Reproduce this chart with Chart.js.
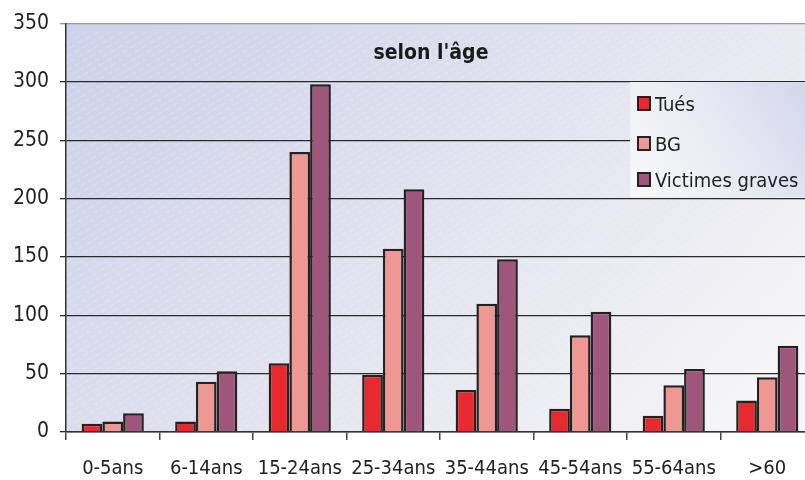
<!DOCTYPE html>
<html>
<head>
<meta charset="utf-8">
<script src="https://cdn.jsdelivr.net/npm/chart.js@4/dist/chart.umd.min.js"></script>
<style>
html,body{margin:0;padding:0;background:#fff;overflow:hidden;}
#wrap{width:820px;height:480px;}
</style>
</head>
<body>
<div id="wrap"><canvas id="chart" width="820" height="480"></canvas></div>
<script>
const categories = ["0-5ans","6-14ans","15-24ans","25-34ans","35-44ans","45-54ans","55-64ans",">60"];
const tues = [7,9,59,49,36,20,14,27];
const bg = [9,43,240,157,110,83,40,47];
const victimesGraves = [16,52,298,208,148,103,54,74];
const yTicks = [0,50,100,150,200,250,300,350];

const FONT = "'DejaVu Sans Condensed','Liberation Sans',sans-serif";

const backdrop = {
  id:"backdrop",
  beforeDraw(chart){
    const {ctx, chartArea:a} = chart;
    ctx.save();
    const g = ctx.createLinearGradient(a.left, a.top, a.left+a.width*0.75, a.bottom+120);
    g.addColorStop(0,"#cdd1ea");
    g.addColorStop(0.55,"#e3e4ef");
    g.addColorStop(1,"#f6f6f8");
    ctx.fillStyle = g;
    ctx.fillRect(a.left, a.top, a.right-a.left, a.bottom-a.top);
    // faint diagonal stripes
    ctx.beginPath();
    ctx.rect(a.left, a.top, a.right-a.left, a.bottom-a.top);
    ctx.clip();
    ctx.strokeStyle = "rgba(255,255,255,0.28)";
    ctx.lineWidth = 1;
    ctx.setLineDash([6,3]);
    for(let x=a.left-800; x<a.right+100; x+=12){
      ctx.beginPath();
      ctx.moveTo(x, a.bottom);
      ctx.lineTo(x+700, a.bottom-400);
      ctx.stroke();
    }
    ctx.restore();
  },
  afterDatasetsDraw(chart){
    const {ctx, chartArea:a} = chart;
    ctx.save();
    // title inside the plot
    ctx.fillStyle = "#1a1a1a";
    ctx.font = "bold 21px " + FONT;
    ctx.textAlign = "center";
    ctx.textBaseline = "middle";
    ctx.fillText("selon l'âge", 431, 54);
    // legend box
    const bx = 630, by = 82, bw = a.right-bx, bh = 115;
    const g = ctx.createLinearGradient(bx+bw, by, bx, by+bh);
    g.addColorStop(0,"#d2d5ec");
    g.addColorStop(0.6,"#eceef4");
    g.addColorStop(1,"#f8f8fa");
    ctx.fillStyle = g;
    ctx.fillRect(bx, by, bw, bh);
    ctx.font = "20px " + FONT;
    ctx.textAlign = "left";
    const rows = [104, 144, 180];
    chart.data.datasets.forEach((ds,i)=>{
      const y = rows[i];
      ctx.fillStyle = ds.backgroundColor;
      ctx.fillRect(638, y-7, 12, 13);
      ctx.strokeStyle = "#222";
      ctx.lineWidth = 2;
      ctx.strokeRect(638, y-7, 12, 13);
      ctx.fillStyle = "#222";
      ctx.fillText(ds.label, 655, y+2);
    });
    ctx.restore();
  }
};

new Chart(document.getElementById("chart"),{
  type:"bar",
  data:{
    labels:categories,
    datasets:[
      {label:"Tués", data:tues, backgroundColor:"#e82a2f"},
      {label:"BG", data:bg, backgroundColor:"#ef9893"},
      {label:"Victimes graves", data:victimesGraves, backgroundColor:"#a0557b"}
    ]
  },
  options:{
    responsive:false,
    animation:false,
    layout:{padding:{top:23,right:6,left:0,bottom:0}},
    datasets:{bar:{
      categoryPercentage:0.665,
      barPercentage:1,
      borderColor:"#222",
      borderWidth:2.5,
      borderSkipped:"bottom"
    }},
    plugins:{legend:{display:false}, tooltip:{enabled:false}},
    scales:{
      x:{
        grid:{offset:true, drawOnChartArea:false, tickLength:8, color:"#444", lineWidth:1.5},
        border:{color:"#333", width:1.5},
        ticks:{color:"#222", font:{family:FONT, size:20}, padding:17, maxRotation:0, minRotation:0, autoSkip:false},
        afterFit(s){ s.height = 48; }
      },
      y:{
        min:0, max:350,
        afterBuildTicks(s){ s.ticks = yTicks.map(v=>({value:v})); },
        grid:{color:(c)=> c.tick && c.tick.value===350 ? "#999" : "#2a2a2a", lineWidth:1.3, tickLength:6},
        border:{color:"#333", width:1.5},
        ticks:{color:"#222", font:{family:FONT, size:21}, padding:11},
        afterFit(s){ s.width = 66; }
      }
    }
  },
  plugins:[backdrop]
});
</script>
</body>
</html>
